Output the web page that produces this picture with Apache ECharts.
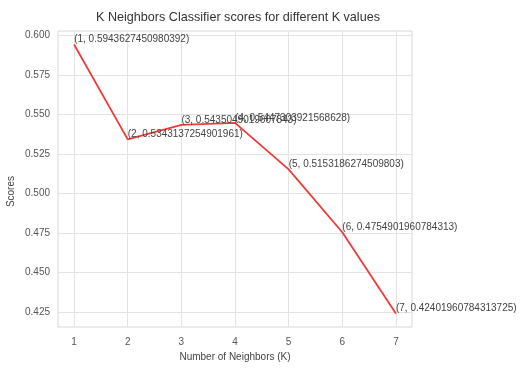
<!DOCTYPE html>
<html>
<head>
<meta charset="utf-8">
<script src="https://cdn.jsdelivr.net/npm/echarts@6/dist/echarts.min.js"></script>
<style>html,body{margin:0;padding:0;background:#fff}#c{width:526px;height:369px}</style>
</head>
<body>
<div id="c"></div>
<script>
const kValues = [1, 2, 3, 4, 5, 6, 7];
const scores = [0.5943627450980392, 0.5343137254901961, 0.5435049019607843, 0.5447303921568628, 0.5153186274509803, 0.4754901960784313, 0.42401960784313725];
const xTicks = [1, 2, 3, 4, 5, 6, 7];
const yTicks = [0.425, 0.45, 0.475, 0.5, 0.525, 0.55, 0.575, 0.6];

const chart = echarts.init(document.getElementById('c'), null, {renderer: 'canvas'});
const font = 'Liberation Sans, Arial, sans-serif';
const gridColor = '#e3e3e3';
chart.setOption({
  animation: false,
  backgroundColor: '#fff',
  title: {
    text: 'K Neighbors Classifier scores for different K values',
    left: 91, top: 6,
    textStyle: {fontFamily: font, fontSize: 12.6, fontWeight: 'normal', color: '#333'}
  },
  grid: {left: 58, right: 114, top: 31, bottom: 42, show: true, borderColor: '#d8d8d8', borderWidth: 1},
  xAxis: {
    type: 'value', min: 0.7, max: 7.3,
    name: 'Number of Neighbors (K)', nameLocation: 'middle', nameGap: 23,
    nameTextStyle: {fontFamily: font, fontSize: 10, color: '#444'},
    axisLine: {show: false},
    axisTick: {show: false, customValues: xTicks},
    axisLabel: {customValues: xTicks, fontFamily: font, fontSize: 10, color: '#555', margin: 10},
    splitLine: {show: true, lineStyle: {color: gridColor, width: 1}}
  },
  yAxis: {
    type: 'value', min: 0.4155, max: 0.6029,
    axisLine: {show: false},
    axisTick: {show: false, customValues: yTicks},
    axisLabel: {customValues: yTicks, fontFamily: font, fontSize: 10, color: '#555', margin: 8,
      formatter: v => v.toFixed(3)},
    splitLine: {show: true, lineStyle: {color: gridColor, width: 1}}
  },
  graphic: [{
    type: 'text', left: 6, top: 176, rotation: Math.PI / 2,
    style: {text: 'Scores', fontFamily: font, fontSize: 10, fill: '#444'}
  }],
  series: [{
    type: 'line',
    data: kValues.map((k, i) => [k, scores[i]]),
    showSymbol: true, symbol: 'circle', symbolSize: 0.1,
    lineStyle: {color: '#f03a3a', width: 1.8},
    itemStyle: {color: '#f03a3a'},
    label: {
      show: true, position: 'right', distance: 0, align: 'left', verticalAlign: 'bottom',
      fontFamily: font, fontSize: 10, color: '#444',
      formatter: p => '(' + p.value[0] + ', ' + String(p.value[1]) + ')'
    },
    labelLayout: {hideOverlap: false}
  }]
});
</script>
</body>
</html>
